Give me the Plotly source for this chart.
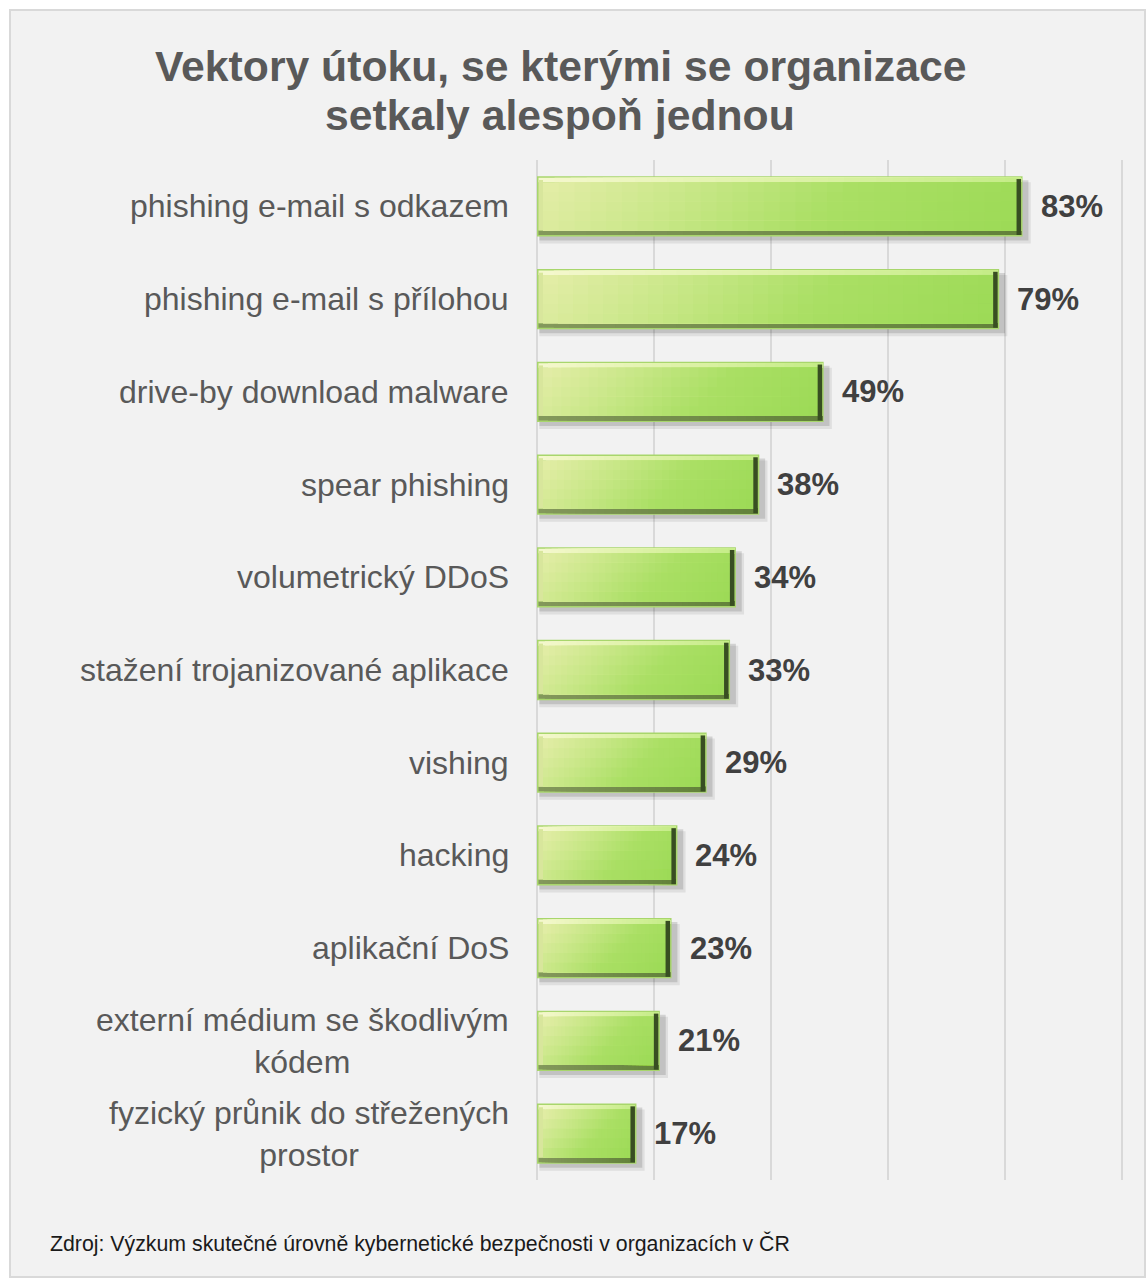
import plotly.graph_objects as go

# Survey results: share of organisations that met each attack vector at least once
categories = [
    "phishing e-mail s odkazem",
    "phishing e-mail s přílohou",
    "drive-by download malware",
    "spear phishing",
    "volumetrický DDoS",
    "stažení trojanizované aplikace",
    "vishing",
    "hacking",
    "aplikační DoS",
    "externí médium se škodlivým<br>kódem",
    "fyzický průnik do střežených<br>prostor",
]
values = [83, 79, 49, 38, 34, 33, 29, 24, 23, 21, 17]

title_lines = ["Vektory útoku, se kterými se organizace", "setkaly alespoň jednou"]
source_text = "Zdroj: Výzkum skutečné úrovně kybernetické bezpečnosti v organizacích v ČR"

# ---- page geometry (pixels) ----
W, H = 1146, 1278
L, R, T, B = 537, 20, 160, 98
PW, PH = W - L - R, H - T - B
SCALE_PX = 585                     # pixels spanned by 0..100 %
X_MAX = 100 * PW / SCALE_PX        # a little room so the 100 % gridline is kept
N_CAT = len(categories)

def px_x(px):
    return (px - L) / PW

def px_y(py):
    return (H - B - py) / PH

FONT = "Arial, Liberation Sans, sans-serif"

UX = X_MAX / PW            # value units per pixel
UY = N_CAT / PH            # category units per pixel
BAR_W = 0.65               # bar thickness in category units
RIM = 1.5                  # outer light rim, px
BEV = 4.5                  # bevel strip, px
N_SEG = 30                 # slices of the gradient along the bar
N_ROW = 5                  # rows of the gradient across the bar

fig = go.Figure()


def rgb(c):
    return "rgb({},{},{})".format(*[round(v) for v in c])


def lerp(stops, t):
    t = min(max(t, 0.0), 1.0)
    for (t0, c0), (t1, c1) in zip(stops, stops[1:]):
        if t <= t1:
            f = (t - t0) / (t1 - t0) if t1 > t0 else 0
            return [a + (b - a) * f for a, b in zip(c0, c1)]
    return stops[-1][1]


def add_bar(base, length, offset, width, color):
    fig.add_trace(go.Bar(
        y=categories, x=length, base=base, orientation="h",
        offset=offset, width=width,
        marker=dict(color=color, line=dict(width=0)),
        hoverinfo="skip", showlegend=False,
    ))


half = BAR_W / 2
top = -half                     # offset of the bar's upper edge

face_stops = [(0.0, (228, 237, 168)), (0.3, (200, 231, 135)),
              (0.6, (170, 223, 100)), (1.0, (156, 218, 86))]
top_stops = [(0.0, (245, 248, 206)), (0.5, (222, 242, 168)), (1.0, (196, 236, 135))]
bottom_stops = [(0.0, (132, 152, 92)), (1.0, (98, 130, 58))]

# soft drop shadow below and to the right
add_bar([0.4] * N_CAT, [v + 1.0 for v in values], top + 6 * UY, BAR_W + 1 * UY, "rgba(0,0,0,0.08)")
add_bar([0.4] * N_CAT, [v + 0.6 for v in values], top + 4 * UY, BAR_W, "rgba(0,0,0,0.13)")

# outer rim
add_bar([0] * N_CAT, values, top, BAR_W, "rgb(168,214,108)")

# inner box (inside the rim)
in_x0 = RIM * UX
in_len = [v - 2 * RIM * UX for v in values]
in_top = top + RIM * UY
in_h = BAR_W - 2 * RIM * UY

# bottom bevel
for i in range(N_SEG):
    t = i / N_SEG
    add_bar([in_x0 + l * t for l in in_len], [l * (1 - t) for l in in_len],
            in_top + in_h - BEV * UY, BEV * UY, rgb(lerp(bottom_stops, t + 0.5 / N_SEG)))

# top bevel
for i in range(N_SEG):
    t = i / N_SEG
    add_bar([in_x0 + l * t for l in in_len], [l * (1 - t) for l in in_len],
            in_top, BEV * UY, rgb(lerp(top_stops, t + 0.5 / N_SEG)))

# left bevel
add_bar([in_x0] * N_CAT, [BEV * UX] * N_CAT, in_top + BEV * UY * 0.5,
        in_h - BEV * UY * 1.5, "rgb(216,230,156)")

# gradient face, shaded diagonally from the upper-left corner
f_x0 = in_x0 + BEV * UX
f_len = [l - 2 * BEV * UX for l in in_len]
f_top = in_top + BEV * UY
f_h = in_h - 2 * BEV * UY
f_h_px = f_h / UY
for r in range(N_ROW):
    row_off = f_top + f_h * r / N_ROW
    row_w = f_h * (N_ROW - r) / N_ROW
    y_px = f_h_px * (r + 0.5) / N_ROW
    for i in range(N_SEG):
        t = i / N_SEG
        colors = []
        for l in f_len:
            w_px = l / UX
            s = (w_px * (t + 0.5 / N_SEG) + y_px) / (w_px + f_h_px)
            colors.append(rgb(lerp(face_stops, s)))
        add_bar([f_x0 + l * t for l in f_len], [l * (1 - t) for l in f_len],
                row_off, row_w, colors)

# right bevel (dark edge)
add_bar([v - RIM * UX - BEV * UX for v in values], [BEV * UX] * N_CAT,
        in_top + BEV * UY * 0.3, in_h - BEV * UY * 0.3, "rgb(56,78,34)")

annotations = []

# category labels (centred lines for two-line labels)
for c in categories:
    annotations.append(dict(
        x=0, xref="paper", y=c, yref="y", xanchor="right", yanchor="middle",
        xshift=-26, text=c, showarrow=False, align="center",
        font=dict(family=FONT, size=32, color="#595959"),
    ))

# value labels
for c, v in zip(categories, values):
    annotations.append(dict(
        x=v, xref="x", y=c, yref="y", xanchor="left", yanchor="middle",
        xshift=16, text=f"<b>{v}%</b>", showarrow=False,
        font=dict(family=FONT, size=31, color="#404040"),
    ))

# title
for line, cy in zip(title_lines, [66, 115]):
    annotations.append(dict(
        x=px_x(560), xref="paper", y=px_y(cy), yref="paper",
        xanchor="center", yanchor="middle", text=f"<b>{line}</b>",
        showarrow=False, font=dict(family=FONT, size=42.7, color="#595959"),
    ))

# source note
annotations.append(dict(
    x=px_x(48), xref="paper", y=px_y(1243), yref="paper",
    xanchor="left", yanchor="middle", text=source_text, showarrow=False,
    font=dict(family=FONT, size=21.3, color="#1a1a1a"),
))

fig.update_layout(
    width=W, height=H,
    margin=dict(l=L, r=R, t=T, b=B, pad=0),
    paper_bgcolor="white",
    plot_bgcolor="rgba(0,0,0,0)",
    barmode="overlay",
    showlegend=False,
    annotations=annotations,
    shapes=[dict(
        type="rect", xref="paper", yref="paper", layer="below",
        x0=px_x(10), x1=px_x(1145), y0=px_y(1277), y1=px_y(10),
        fillcolor="#f2f2f2", line=dict(color="#d9d9d9", width=2),
    )],
    xaxis=dict(range=[0, X_MAX], tickvals=[0, 20, 40, 60, 80, 100],
               showticklabels=False,
               showgrid=True, gridcolor="#d9d9d9", gridwidth=2,
               zeroline=True, zerolinecolor="#d9d9d9", zerolinewidth=2,
               showline=False, fixedrange=True),
    yaxis=dict(range=[N_CAT - 0.5, -0.5], showticklabels=False,
               showgrid=False, zeroline=False, showline=False, fixedrange=True,
               type="category"),
)

fig.write_html("out.html")
